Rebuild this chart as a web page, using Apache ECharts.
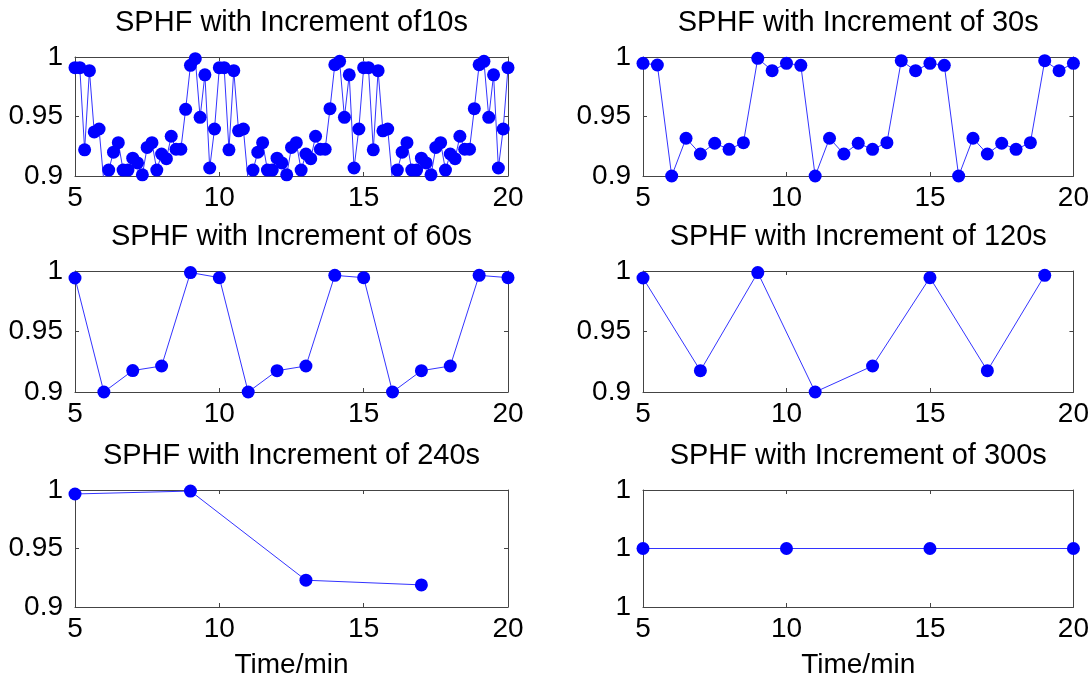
<!DOCTYPE html>
<html>
<head>
    <meta charset="utf-8"/>
    <script src="https://cdn.jsdelivr.net/npm/echarts@6/dist/echarts.min.js"></script>
    <style>
        body { margin: 0; background: #fff; }
    </style>
</head>
<body>
<div id="main" style="width: 1092px;height:685px;"></div>
<script type="text/javascript">
    // start time (min) and sampling increments (s)
    var tStart = 5;
    var increments = [10, 30, 60, 120, 240, 300];
    var titles = [
        'SPHF with Increment of10s',
        'SPHF with Increment of 30s',
        'SPHF with Increment of 60s',
        'SPHF with Increment of 120s',
        'SPHF with Increment of 240s',
        'SPHF with Increment of 300s'
    ];
    var xTicks = [5, 10, 15, 20];

    // SPHF values
    var sphf10 = [
        0.991, 0.991, 0.922, 0.9885, 0.937, 0.9395, 0.895, 0.905, 0.920, 0.928,
        0.905, 0.905, 0.915, 0.911, 0.901, 0.924, 0.928, 0.905, 0.9185, 0.9146,
        0.9334, 0.9225, 0.9225, 0.956, 0.993, 0.9986, 0.9493, 0.985, 0.9067, 0.9395,
        0.991, 0.991, 0.922, 0.9885, 0.938, 0.9395, 0.895, 0.905, 0.920, 0.928,
        0.905, 0.905, 0.915, 0.911, 0.901, 0.924, 0.928, 0.905, 0.9185, 0.9146,
        0.9334, 0.9225, 0.9225, 0.9566, 0.9935, 0.9964, 0.9493, 0.985, 0.9067, 0.9395,
        0.991, 0.991, 0.922, 0.9885, 0.938, 0.9395, 0.895, 0.905, 0.920, 0.928,
        0.905, 0.905, 0.915, 0.911, 0.901, 0.924, 0.928, 0.905, 0.9185, 0.9146,
        0.9334, 0.9225, 0.9225, 0.9566, 0.9935, 0.9964, 0.9493, 0.985, 0.9067, 0.9395,
        0.991
    ];
    var sphf30 = [
        0.9947, 0.9933, 0.9, 0.9317, 0.9185, 0.9275, 0.9224, 0.928, 0.9989, 0.9885,
        0.9947, 0.993, 0.9, 0.9317, 0.9185, 0.9275, 0.9224, 0.928, 0.9969, 0.9885,
        0.9947, 0.993, 0.9, 0.9317, 0.9185, 0.9275, 0.9224, 0.928, 0.9969, 0.9885,
        0.9947
    ];
    var sphf60 = [
        0.9942, 0.9, 0.9177, 0.9215, 0.9987, 0.9945, 0.9, 0.9176, 0.9215, 0.9964,
        0.9945, 0.9, 0.9176, 0.9215, 0.9964, 0.9945
    ];
    var sphf120 = [0.9942, 0.9176, 0.9987, 0.9, 0.9215, 0.9945, 0.9176, 0.9964];
    var sphf240 = [0.9966, 0.9991, 0.9229, 0.9189];
    var sphf300 = [1, 1, 1, 1];
    var allSeries = [sphf10, sphf30, sphf60, sphf120, sphf240, sphf300];

    var colLeft = [75, 643];
    var rowTop = [57, 271, 490];
    var rowHeight = [119, 121, 117];
    var plotWidth = 433;

    var font = 'Liberation Sans, Arial, sans-serif';
    var boxColor = '#444';

    var myChart = echarts.init(document.getElementById('main'));

    var grid = [], xAxis = [], yAxis = [], series = [];

    for (var i = 0; i < 6; i++) {
        var col = i % 2, row = Math.floor(i / 2);
        grid.push({
            left: colLeft[col], top: rowTop[row],
            width: plotWidth, height: rowHeight[row]
        });

        var isBottom = row === 2;
        // bottom axis with labels
        xAxis.push({
            type: 'value', gridIndex: i, position: 'bottom',
            min: 5, max: 20, interval: 5,
            axisLine: {show: true, onZero: false, lineStyle: {color: boxColor, width: 1}},
            axisTick: {show: true, inside: true, length: 4, lineStyle: {color: boxColor}},
            axisLabel: {color: '#000', fontSize: 28, fontFamily: font, margin: 8},
            splitLine: {show: false},
            name: isBottom ? 'Time/min' : '',
            nameLocation: 'middle', nameGap: 44,
            nameTextStyle: {color: '#000', fontSize: 28, fontFamily: font}
        });
        // top axis: box edge + title
        xAxis.push({
            type: 'value', gridIndex: i, position: 'top',
            min: 5, max: 20, interval: 5,
            axisLine: {show: true, onZero: false, lineStyle: {color: boxColor, width: 1}},
            axisTick: {show: true, inside: true, length: 4, lineStyle: {color: boxColor}},
            axisLabel: {show: false},
            splitLine: {show: false},
            name: titles[i],
            nameLocation: 'middle', nameGap: 20,
            nameTextStyle: {color: '#000', fontSize: 29, fontFamily: font}
        });

        var yRange = i === 5
            ? {min: 0.99, max: 1.01, interval: 0.01}
            : {min: 0.9, max: 1, interval: 0.05};
        yAxis.push(Object.assign({
            type: 'value', gridIndex: i, position: 'left',
            axisLine: {show: true, onZero: false, lineStyle: {color: boxColor, width: 1}},
            axisTick: {show: true, inside: true, length: 4, lineStyle: {color: boxColor}},
            axisLabel: {
                color: '#000', fontSize: 28, fontFamily: font, margin: 12,
                formatter: i === 5 ? function (v) { return Math.round(v); } : null
            },
            splitLine: {show: false}
        }, yRange));
        yAxis.push(Object.assign({
            type: 'value', gridIndex: i, position: 'right',
            axisLine: {show: true, onZero: false, lineStyle: {color: boxColor, width: 1}},
            axisTick: {show: true, inside: true, length: 4, lineStyle: {color: boxColor}},
            axisLabel: {show: false},
            splitLine: {show: false}
        }, yRange));

        var step = increments[i] / 60;
        var pts = allSeries[i].map(function (v, k) {
            return [tStart + k * step, v];
        });
        series.push({
            type: 'line',
            xAxisIndex: 2 * i, yAxisIndex: 2 * i,
            data: pts,
            clip: true,
            symbol: 'circle', symbolSize: 13,
            itemStyle: {color: '#0000ff'},
            lineStyle: {color: '#3333ff', width: 1},
            animation: false
        });
    }

    var option = {
        backgroundColor: '#fff',
        animation: false,
        grid: grid,
        xAxis: xAxis,
        yAxis: yAxis,
        series: series
    };

    myChart.setOption(option);
</script>
</body>
</html>
